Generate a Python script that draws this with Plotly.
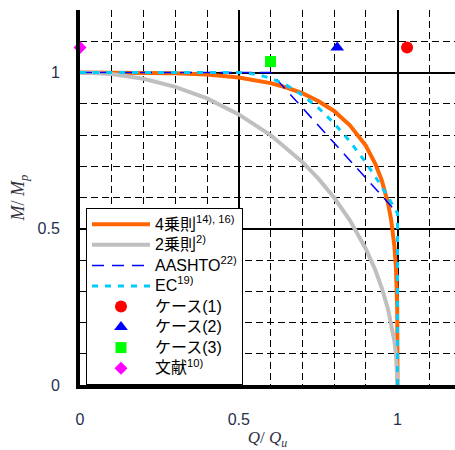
import plotly.graph_objects as go

# 4乗則 curve
q4 = [0, 0.1, 0.2, 0.3, 0.4, 0.5, 0.6, 0.65, 0.7, 0.75, 0.8, 0.85, 0.9, 0.93, 0.95, 0.97, 0.98, 0.99, 0.995, 0.999, 1.0]
m4 = [1.0, 1.0, 0.9996, 0.998, 0.9935, 0.984, 0.966, 0.952, 0.934, 0.909, 0.877, 0.831, 0.766, 0.708, 0.656, 0.582, 0.528, 0.446, 0.376, 0.25, 0.0]

# 2乗則 curve
q2 = [0, 0.1, 0.2, 0.3, 0.4, 0.5, 0.6, 0.7, 0.75, 0.8, 0.85, 0.9, 0.93, 0.95, 0.97, 0.98, 0.99, 0.995, 1.0]
m2 = [1.0, 0.995, 0.980, 0.954, 0.917, 0.866, 0.8, 0.714, 0.661, 0.6, 0.527, 0.436, 0.368, 0.312, 0.243, 0.199, 0.141, 0.100, 0.0]

# AASHTO
qa = [0, 0.6, 1.0]
ma = [1.0, 1.0, 0.55]

# EC
qe = [0, 0.5, 0.55, 0.6, 0.65, 0.7, 0.75, 0.8, 0.85, 0.9, 0.95, 1.0, 1.0]
me = [1.0, 1.0, 0.9955, 0.982, 0.9595, 0.928, 0.8875, 0.838, 0.7795, 0.712, 0.6355, 0.55, 0.0]

# Experimental points
case1 = (1.03, 1.08)
case2 = (0.81, 1.08)
case3 = (0.60, 1.035)
lit = (0.0, 1.08)

names = ["4乗則<sup>14), 16)</sup>", "2乗則<sup>2)</sup>", "AASHTO<sup>22)</sup>", "EC<sup>19)</sup>",
         "ケース(1)", "ケース(2)", "ケース(3)", "文献<sup>10)</sup>"]


def big(s):
    return '<span style="font-size:16px">' + s + '</span>'


fig = go.Figure()
fig.add_trace(go.Scatter(x=q4, y=m4, mode="lines", name=big(names[0]),
                         line=dict(color="#FF6600", width=4)))
fig.add_trace(go.Scatter(x=q2, y=m2, mode="lines", name=big(names[1]),
                         line=dict(color="#BFBFBF", width=4)))
fig.add_trace(go.Scatter(x=qa, y=ma, mode="lines", name=big(names[2]),
                         line=dict(color="#0000FF", width=1.5, dash="12px,8px")))
fig.add_trace(go.Scatter(x=qe, y=me, mode="lines", name=big(names[3]),
                         line=dict(color="#00CCFF", width=3, dash="6px,7px")))
fig.add_trace(go.Scatter(x=[case1[0]], y=[case1[1]], mode="markers", name=big(names[4]),
                         marker=dict(symbol="circle", color="#FF0000", size=12), cliponaxis=False))
fig.add_trace(go.Scatter(x=[case2[0]], y=[case2[1]], mode="markers", name=big(names[5]),
                         marker=dict(symbol="triangle-up", color="#0000FF", size=12), cliponaxis=False))
fig.add_trace(go.Scatter(x=[case3[0]], y=[case3[1]], mode="markers", name=big(names[6]),
                         marker=dict(symbol="square", color="#00FF00", size=11), cliponaxis=False))
fig.add_trace(go.Scatter(x=[lit[0]], y=[lit[1]], mode="markers", name=big(names[7]),
                         marker=dict(symbol="diamond", color="#FF00FF", size=10), cliponaxis=False))

tickfont = dict(family="Liberation Sans, Arial, sans-serif", size=16, color="#1F3050")

fig.update_xaxes(range=[0, 1.181], dtick=0.5, tick0=0, showgrid=True, gridcolor="black", gridwidth=1.5,
                 minor=dict(dtick=0.1, showgrid=True, gridcolor="black", gridwidth=1.2, griddash="7px,4px"),
                 showline=True, linewidth=4, linecolor="black", zeroline=False,
                 ticks="outside", ticklen=17, tickcolor="rgba(0,0,0,0)", tickfont=tickfont,
                 title=dict(text="<i>Q</i>/ <i>Q<sub>u</sub></i>", standoff=2,
                            font=dict(family="Liberation Serif, serif", size=17, color="#303040")))
fig.update_yaxes(range=[0, 1.2], dtick=0.5, tick0=0, showgrid=True, gridcolor="black", gridwidth=1.5,
                 minor=dict(dtick=0.1, showgrid=True, gridcolor="black", gridwidth=1.2, griddash="7px,4px"),
                 showline=True, linewidth=4, linecolor="black", zeroline=False,
                 ticks="outside", ticklen=13, tickcolor="rgba(0,0,0,0)", tickfont=tickfont,
                 title=dict(text="<i>M</i>/ <i>M<sub>p</sub></i>", standoff=9,
                            font=dict(family="Liberation Serif, serif", size=18, color="#303040")))

fig.update_layout(
    width=455, height=450,
    margin=dict(l=80, r=0, t=10, b=65),
    plot_bgcolor="white", paper_bgcolor="white",
    legend=dict(x=0.016, y=0.472, xanchor="left", yanchor="top",
                bgcolor="white", bordercolor="black", borderwidth=1,
                font=dict(family="Liberation Sans, Noto Sans CJK JP, sans-serif", size=13.5, color="black"),
                itemwidth=58, tracegroupgap=0),
    shapes=[dict(type="rect", xref="paper", yref="paper", x0=0.024, x1=0.429, y0=0.0053, y1=0.459,
                 fillcolor="black", line=dict(width=0), layer="above")],
    showlegend=True,
)

fig.write_html("out.html")
